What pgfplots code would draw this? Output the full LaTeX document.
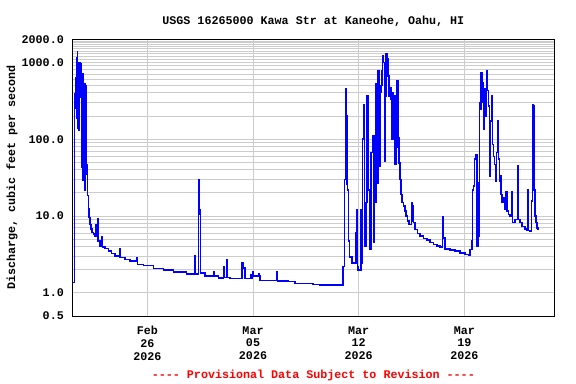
\documentclass[border=0pt]{standalone}
\usepackage{fontspec}
\setmainfont{Liberation Mono}
\usepackage{pgfplots}
\pgfplotsset{compat=1.18}
\definecolor{gridgray}{RGB}{204,204,204}
\newcommand{\chartfont}{\fontsize{11.7bp}{12.7bp}\selectfont\bfseries}
\pgfplotstableread{
day value
0.06 1.36
0.164 390
0.21 250
0.257 640
0.297 190
0.323 1140
0.363 1360
0.39 140
0.429 1000
0.476 130
0.496 980
0.542 350
0.588 960
0.628 43
0.674 670
0.694 29
0.741 710
0.787 320
0.827 525
0.873 22
0.92 320
0.939 500
0.959 35
0.986 47
1.006 35
1.052 18.4
1.092 12.3
1.138 9.6
1.204 7.8
1.271 6.75
1.337 6.1
1.423 5.8
1.536 5.4
1.602 7.8
1.64 5.6
1.688 9.1
1.72 5.2
1.734 4.75
1.867 4.1
1.953 5.4
1.99 4.1
2.019 3.97
2.198 3.77
2.417 3.52
2.642 3.25
2.861 3.03
3.145 2.88
3.192 3.8
3.23 2.9
3.523 2.7
3.854 2.6
4.298 2.9
4.34 2.34
4.735 2.27
5.398 2.09
6.06 2.0
6.723 1.86
7.611 1.77
8.16 3.0
8.19 1.77
8.379 10.5
8.425 30
8.46 12
8.538 1.82
8.823 1.65
9.373 1.88
9.40 1.65
9.704 1.57
10.036 2.18
10.07 1.58
10.261 2.66
10.30 1.58
10.479 1.54
11.254 2.46
11.36 2.12
11.473 1.54
11.87 1.73
11.90 1.54
11.98 1.86
12.003 1.65
12.354 1.78
12.38 1.65
12.466 1.45
13.573 1.86
13.62 1.42
14.322 1.40
14.785 1.32
15.978 1.28
16.441 1.26
17.945 2.22
18.051 30
18.118 450
18.164 200
18.211 26
18.25 22
18.316 4.7
18.383 2.95
18.541 2.46
18.78 6.0
18.826 2.46
18.872 12.2
18.912 2.2
18.958 2.0
19.137 12
19.177 2.4
19.243 101
19.309 285
19.376 4.0
19.468 15
19.555 365
19.641 22
19.707 3.7
19.82 67
19.906 110
19.999 4.5
20.039 15
20.131 520
20.198 27
20.264 780
20.33 45
20.396 405
20.463 500
20.529 780
20.569 1216
20.635 1000
20.701 52
20.767 365
20.814 1280
20.88 1100
20.946 670
21.013 365
21.079 470
21.145 330
21.191 100
21.258 400
21.297 200
21.344 365
21.41 47
21.456 78
21.523 575
21.589 550
21.629 105
21.675 49
21.741 30
21.788 19
21.854 15
21.96 13.5
22.072 11.6
22.139 10
22.225 8.6
22.338 7.8
22.49 15
22.537 8.5
22.583 13.5
22.623 8.2
22.735 6.7
22.888 5.9
23.067 5.5
23.285 5.1
23.51 4.85
23.729 4.5
23.947 4.25
24.173 4.05
24.391 3.97
24.543 9.7
24.61 5.2
24.722 3.75
25.053 3.6
25.385 3.5
25.716 3.3
26.047 3.16
26.266 3.06
26.378 3.67
26.491 4.7
26.531 22
26.597 24.5
26.663 55
26.729 63
26.822 4.0
26.889 5.5
26.955 27
26.995 300
27.061 245
27.107 740
27.174 550
27.22 300
27.26 135
27.326 450
27.392 200
27.459 780
27.525 430
27.591 270
27.657 33
27.724 172
27.79 365
27.856 86
27.922 60
27.989 47
28.055 28
28.121 67
28.188 172
28.254 55
28.32 28
28.386 33
28.433 19
28.499 15
28.585 17.3
28.652 12.2
28.744 20.7
28.811 11.6
28.917 10.5
29.029 10
29.142 21
29.18 8.2
29.36 9.0
29.513 45
29.55 9
29.692 8.2
29.804 7.3
30.023 6.8
30.136 6.5
30.176 22
30.21 6.5
30.355 6.4
30.439 15.7
30.505 285
30.572 270
30.618 22
30.684 10
30.751 8.2
30.817 7.0
30.863 6.8
30.9 6.8
}\flowdata
\begin{document}
\begin{tikzpicture}
\begin{axis}[
  scale only axis,
  width=481.3bp, height=276.7bp,
  ymode=log,
  xmin=0.06, xmax=31.93, ymin=0.5, ymax=2000,
  ytick={0.5,1,10,100,1000,2000},
  yticklabels={0.5,1.0,10.0,100.0,1000.0,2000.0},
  minor ytick={2,3,4,5,6,7,8,9,20,30,40,50,60,70,80,90,200,300,400,500,600,700,800,900,1100,1200,1300,1400,1500,1600,1700,1800,1900},
  xtick={5,12,19,26},
  xticklabels={{Feb\\26\\2026},{Mar\\05\\2026},{Mar\\12\\2026},{Mar\\19\\2026}},
  ymajorgrids, yminorgrids, xmajorgrids,
  grid style={gridgray, line width=1bp},
  minor grid style={gridgray, line width=1bp},
  major tick length=0pt, minor tick length=0pt,
  axis line style={line width=1bp, black},
  xticklabel style={align=center, font=\chartfont, inner sep=0pt, anchor=north, yshift=-10.3bp},
  yticklabel style={font=\chartfont, inner sep=0pt, anchor=east, xshift=-8.7bp},
  /pgf/number format/assume math mode=true,
  title={USGS 16265000 Kawa Str at Kaneohe, Oahu, HI},
  title style={font=\chartfont, at={(axis description cs:0.5,1)}, anchor=base, yshift=8.8bp},
  ylabel={Discharge, cubic feet per second},
  every axis y label/.style={at={(axis description cs:-0.1261,0.5)}, rotate=90, anchor=center, font=\chartfont},
]
\addplot[const plot, color=blue, line width=1.5bp] table[x=day, y=value] {\flowdata};
\end{axis}
\node[font=\chartfont, text=red, anchor=center] at (240.65bp,-59bp) {-{}-{}-{}- Provisional Data Subject to Revision -{}-{}-{}-};
\pgfresetboundingbox
\path (-72.7bp,-68bp) rectangle (503.3bp,316bp);
\end{tikzpicture}
\end{document}
